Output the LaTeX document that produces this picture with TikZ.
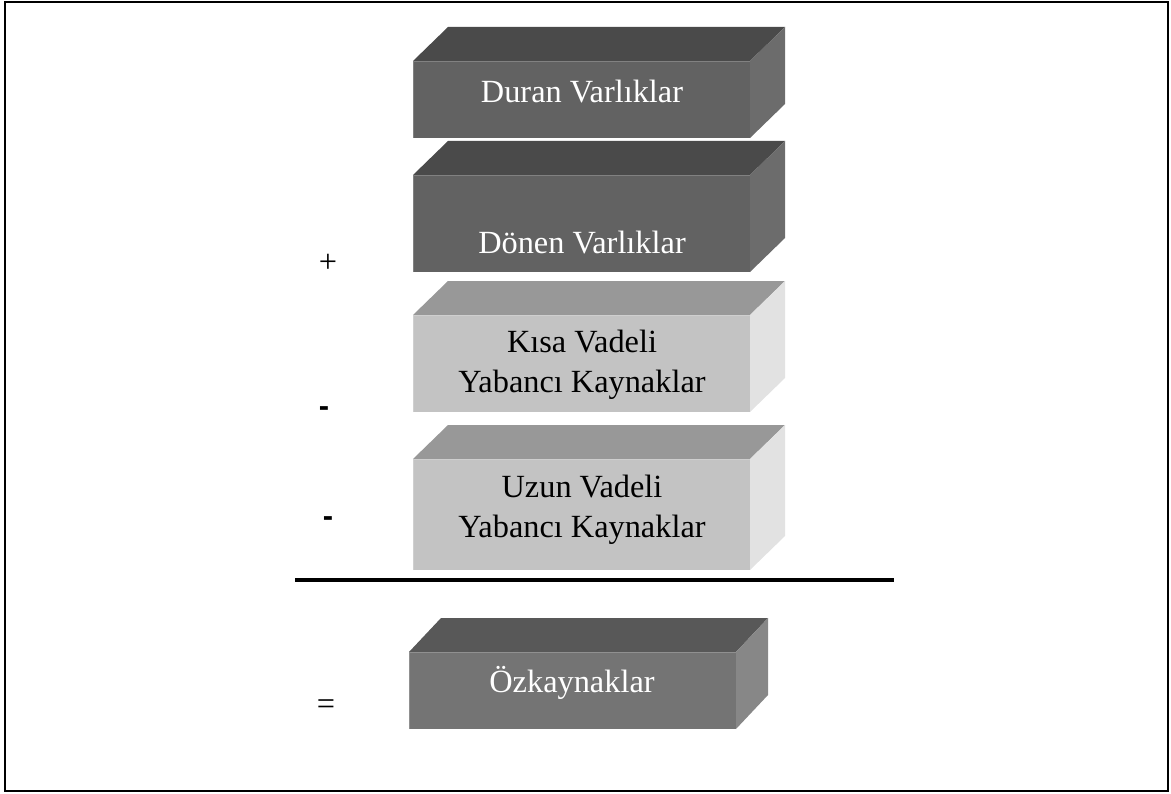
\documentclass[tikz,border=0pt]{standalone}
\usepackage{fontspec}
\setmainfont{Liberation Serif}
\newfontfamily\isaretfont{Liberation Sans}
\usepackage{tikz}

\definecolor{koyuon}{HTML}{626262}
\definecolor{koyutavan}{HTML}{4A4A4A}
\definecolor{koyuyan}{HTML}{6C6C6C}
\definecolor{ortaon}{HTML}{747474}
\definecolor{ortatavan}{HTML}{585858}
\definecolor{ortayan}{HTML}{878787}
\definecolor{acikon}{HTML}{C3C3C3}
\definecolor{aciktavan}{HTML}{989898}
\definecolor{acikyan}{HTML}{E2E2E2}

\begin{document}
\begin{tikzpicture}[x=0.025cm, y=-0.025cm,
  yazi/.style={font=\fontsize{23}{27.8}\selectfont, align=center, inner sep=0pt, anchor=base},
  isaret/.style={font=\fontsize{23}{27.8}\selectfont, inner sep=0pt}]
  \useasboundingbox (0,0) rectangle (1171,794);
  \draw[line width=1.8pt] (5,2) rectangle (1168,791);

  % kutular: sol/sag/ust/alt ve renk takimi
  \foreach \sol/\sag/\ust/\alt/\dx/\renk in {413/750/61/138/35/koyu, 413/750/175/272/35/koyu,
      413/750/315/412/35/acik, 413/750/459/570/35/acik, 409/736/652/729/32/orta}
    {\fill[\renk tavan] (\sol,\ust) -- ++(\dx,-34) -- (\sag+\dx,\ust-34) -- (\sag,\ust) -- cycle;
     \fill[\renk yan] (\sag,\ust) -- (\sag+\dx,\ust-34) -- (\sag+\dx,\alt-34) -- (\sag,\alt) -- cycle;
     \fill[\renk on] (\sol,\ust) rectangle (\sag,\alt);
     \draw[\renk on!80!white, line width=0.5pt] (\sol,\alt) -- (\sol,\ust) -- (\sag,\ust);}

  % iki satirli yazilarda base son satirin tabani
  \node[yazi, text=white] (duran) at (582,103) {Duran Varlıklar};
  \node[yazi, text=white] (donen) at (582,253) {Dönen Varlıklar};
  \node[yazi] (kisa) at (582,392) {Kısa Vadeli\\Yabancı Kaynaklar};
  \node[yazi] (uzun) at (582,537) {Uzun Vadeli\\Yabancı Kaynaklar};
  \node[yazi, text=white] (ozkaynak) at (572,692) {Özkaynaklar};

  \node[isaret] (arti) at (328,263) {+};
  \node[isaret, font=\isaretfont\bfseries\fontsize{22}{26}\selectfont] (eksi1) at (324,412) {-};
  \node[isaret, font=\isaretfont\bfseries\fontsize{22}{26}\selectfont] (eksi2) at (328,522) {-};
  \node[isaret] (esit) at (326,707) {=};

  \coordinate (cizgisol) at (295,580);
  \coordinate (cizgisag) at (894,580);
  \draw[line width=2.2pt] (cizgisol) -- (cizgisag);
\end{tikzpicture}
\end{document}
